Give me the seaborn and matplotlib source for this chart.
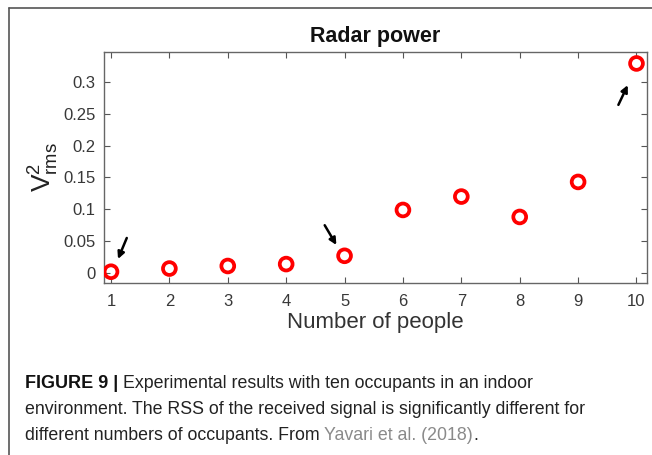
import matplotlib
matplotlib.use("Agg")
import matplotlib.pyplot as plt
import seaborn as sns
import pandas as pd
from matplotlib.lines import Line2D

people = [1, 2, 3, 4, 5, 6, 7, 8, 9, 10]
power = [0.002, 0.007, 0.011, 0.014, 0.027, 0.099, 0.120, 0.088, 0.143, 0.329]
yticks = [0, 0.05, 0.1, 0.15, 0.2, 0.25, 0.3]
ytick_labels = ["0", "0.05", "0.1", "0.15", "0.2", "0.25", "0.3"]
# arrows: (tail_x, tail_y, head_x, head_y) in data units
arrows = [(1.27, 0.055, 1.12, 0.022),
          (4.66, 0.075, 4.86, 0.044),
          (9.69, 0.264, 9.85, 0.295)]

sns.set_style("ticks")
plt.rcParams["font.family"] = ["Liberation Sans", "DejaVu Sans"]
plt.rcParams["mathtext.fontset"] = "custom"
plt.rcParams["mathtext.rm"] = "Liberation Sans"
plt.rcParams["mathtext.it"] = "Liberation Sans"

fig = plt.figure(figsize=(6.52, 4.55), dpi=100)
fig.patch.set_facecolor("white")

# outer frame lines (top and left)
fig.add_artist(Line2D([9/652, 1.0], [1-8/455, 1-8/455], transform=fig.transFigure, color="#555555", lw=1.2))
fig.add_artist(Line2D([9/652, 9/652], [1-8/455, 0.0], transform=fig.transFigure, color="#555555", lw=1.2))

ax = fig.add_axes([104/652, 1-283/455, 543/652, 231/455])
df = pd.DataFrame({"people": people, "power": power})
sns.scatterplot(data=df, x="people", y="power", ax=ax, marker="o", s=85,
                facecolor="none", edgecolor="#ff0000", linewidth=2.7, zorder=3)

for tx, ty, hx, hy in arrows:
    ax.annotate("", xy=(hx, hy), xytext=(tx, ty),
                arrowprops=dict(arrowstyle="-|>", color="black", lw=1.8,
                                mutation_scale=10, shrinkA=0, shrinkB=0))

ax.set_xlim(0.88, 10.18)
ax.set_ylim(-0.0157, 0.347)
ax.set_xticks(people)
ax.set_xticklabels([str(p) for p in people])
ax.set_yticks(yticks)
ax.set_yticklabels(ytick_labels)
ax.tick_params(direction="in", length=4, width=0.8, top=True, right=True,
               labelsize=12, labelcolor="#383838", color="#555555")
ax.tick_params(axis="x", pad=8)
ax.tick_params(axis="y", pad=6)
for sp in ax.spines.values():
    sp.set_visible(True)
    sp.set_color("#666666")
    sp.set_linewidth(1.0)

ax.set_xlabel("Number of people", fontsize=16, color="#333333", labelpad=2)
ax.set_ylabel(r"$\mathregular{V^2_{rms}}$", fontsize=19, color="#222222", labelpad=2)
ax.set_title("Radar power", fontsize=15.5, fontweight="bold", color="#111111", pad=7)

# caption
cap_x = 25/652
fs = 12.8
fig.canvas.draw()
r = fig.canvas.get_renderer()
t_bold = fig.text(cap_x, 1-384/455, "FIGURE 9 |", fontsize=13, fontweight="bold",
                  color="#111111", va="center", ha="left")
bb = t_bold.get_window_extent(renderer=r)
x_after = (bb.x1 + 5) / fig.bbox.width
fig.text(x_after, 1-384/455, "Experimental results with ten occupants in an indoor",
         fontsize=fs, color="#222222", va="center", ha="left")
fig.text(cap_x, 1-410/455, "environment. The RSS of the received signal is significantly different for",
         fontsize=fs, color="#222222", va="center", ha="left")
t3 = fig.text(cap_x, 1-435/455, "different numbers of occupants. From ",
              fontsize=fs, color="#222222", va="center", ha="left")
bb3 = t3.get_window_extent(renderer=r)
t4 = fig.text(bb3.x1 / fig.bbox.width, 1-435/455, "Yavari et al. (2018)",
              fontsize=fs, color="#8a8a8a", va="center", ha="left")
bb4 = t4.get_window_extent(renderer=r)
fig.text(bb4.x1 / fig.bbox.width, 1-435/455, ".",
         fontsize=fs, color="#222222", va="center", ha="left")

fig.savefig("out.png", dpi=100, facecolor="white")
